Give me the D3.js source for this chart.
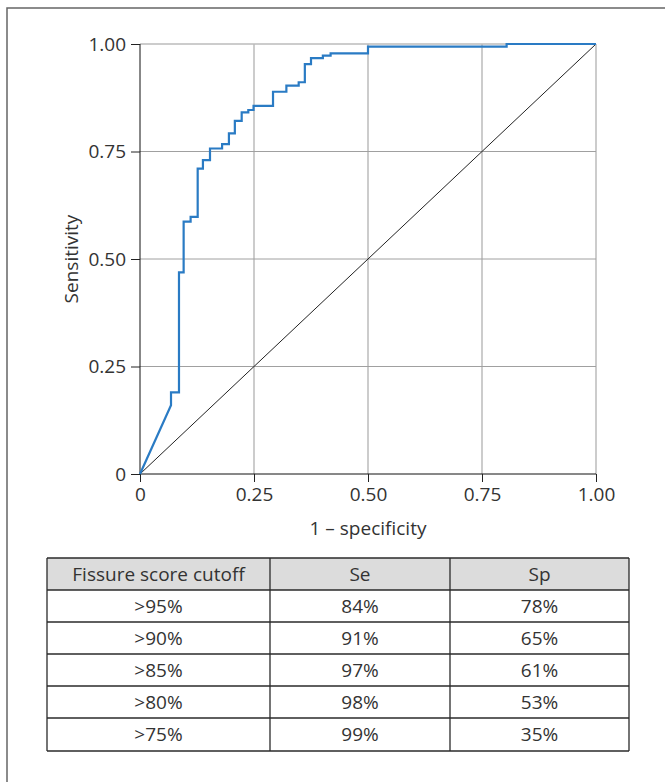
<!DOCTYPE html>
<html>
<head>
<meta charset="utf-8">
<script src="https://cdn.jsdelivr.net/npm/d3@7"></script>
<style>
  html, body { margin: 0; padding: 0; background: #fff; }
  svg { display: block; }
  text { font-family: "Open Sans", "Noto Sans", sans-serif; fill: #333; }
</style>
</head>
<body>
<svg id="chart" width="665" height="782"></svg>
<script>
// ROC curve vertices (1 - specificity, sensitivity)
const fpr = [0, 0.068, 0.068, 0.0855, 0.0855, 0.0957, 0.0957, 0.111, 0.111, 0.1265, 0.1265, 0.138, 0.138, 0.1535, 0.1535, 0.18, 0.18, 0.195, 0.195, 0.208, 0.208, 0.223, 0.223, 0.2375, 0.2375, 0.249, 0.249, 0.2917, 0.2917, 0.321, 0.321, 0.348, 0.348, 0.3615, 0.3615, 0.375, 0.375, 0.401, 0.401, 0.418, 0.418, 0.5, 0.5, 0.804, 0.804, 1];
const tpr = [0, 0.16, 0.19, 0.19, 0.469, 0.469, 0.587, 0.587, 0.598, 0.598, 0.710, 0.710, 0.730, 0.730, 0.757, 0.757, 0.767, 0.767, 0.792, 0.792, 0.821, 0.821, 0.841, 0.841, 0.8465, 0.8465, 0.856, 0.856, 0.889, 0.889, 0.903, 0.903, 0.911, 0.911, 0.953, 0.953, 0.967, 0.967, 0.973, 0.973, 0.978, 0.978, 0.994, 0.994, 1, 1];
const tickValues = [0, 0.25, 0.5, 0.75, 1];
const tickLabels = ["0", "0.25", "0.50", "0.75", "1.00"];
const tableHeader = ["Fissure score cutoff", "Se", "Sp"];
const cutoffs = [">95%", ">90%", ">85%", ">80%", ">75%"];
const seValues = ["84%", "91%", "97%", "98%", "99%"];
const spValues = ["78%", "65%", "61%", "53%", "35%"];

const FS = "19px";
const svg = d3.select("#chart");

// outer frame (left and top edges)
svg.append("path").attr("d", "M7,782 V8 H665").attr("fill", "none").attr("stroke", "#666").attr("stroke-width", 1.5);

const x = d3.scaleLinear().domain([0, 1]).range([140, 596]);
const y = d3.scaleLinear().domain([0, 1]).range([474, 44]);

// gridlines
const grid = svg.append("g");
grid.selectAll("line.v").data(tickValues.slice(1)).join("line")
  .attr("x1", d => x(d)).attr("x2", d => x(d)).attr("y1", y(0)).attr("y2", y(1))
  .attr("stroke", "#999").attr("stroke-width", 1);
grid.selectAll("line.h").data(tickValues.slice(1)).join("line")
  .attr("y1", d => y(d)).attr("y2", d => y(d)).attr("x1", x(0)).attr("x2", x(1))
  .attr("stroke", d => d === 1 ? "#bbb" : "#a0a0a0").attr("stroke-width", d => d === 1 ? 1.5 : 1);

// axes
const xAxis = d3.axisBottom(x).tickValues(tickValues).tickFormat((d, i) => tickLabels[i]).tickSize(8).tickPadding(4);
const yAxis = d3.axisLeft(y).tickValues(tickValues).tickFormat((d, i) => tickLabels[i]).tickSize(9).tickPadding(5);
const gx = svg.append("g").attr("transform", `translate(0,${y(0)})`).call(xAxis);
const gy = svg.append("g").attr("transform", `translate(${x(0)},0)`).call(yAxis);
[gx, gy].forEach(g => {
  g.select(".domain").attr("stroke", "#111").attr("d", g === gx ? `M${x(0)},0H${x(1)}` : `M0,${y(0)}V${y(1)}`);
  g.selectAll(".tick line").attr("stroke", "#222");
  g.selectAll(".tick text").style("font-family", '"Open Sans", sans-serif').style("font-size", FS).attr("fill", "#333");
});
gx.selectAll(".tick text").attr("dy", "0.8em");

// diagonal reference
svg.append("line").attr("x1", x(0)).attr("y1", y(0)).attr("x2", x(1)).attr("y2", y(1))
  .attr("stroke", "#222").attr("stroke-width", 1);

// ROC curve
const pts = fpr.map((f, i) => [f, tpr[i]]);
svg.append("path").datum(pts)
  .attr("d", d3.line().x(d => x(d[0])).y(d => y(d[1])))
  .attr("fill", "none").attr("stroke", "#2a7bc4").attr("stroke-width", 2.2).attr("stroke-linejoin", "miter");

// axis titles
svg.append("text").attr("x", (x(0) + x(1)) / 2).attr("y", 535).attr("text-anchor", "middle")
  .style("font-size", FS).text("1 – specificity");
svg.append("text").attr("transform", `translate(78,${(y(0) + y(1)) / 2}) rotate(-90)`).attr("text-anchor", "middle")
  .style("font-size", FS).text("Sensitivity");

// table
const colX = [47, 270, 450, 629];
const rowY = [558, 590, 622, 654, 686, 718, 751];
const tbl = svg.append("g");
tbl.append("rect").attr("x", colX[0]).attr("y", rowY[0]).attr("width", colX[3] - colX[0]).attr("height", rowY[1] - rowY[0]).attr("fill", "#dcdcdc");
const rows = cutoffs.map((c, i) => [c, seValues[i], spValues[i]]);
const allRows = [tableHeader, ...rows];
allRows.forEach((r, i) => {
  r.forEach((cell, j) => {
    tbl.append("text").attr("x", (colX[j] + colX[j + 1]) / 2).attr("y", (rowY[i] + rowY[i + 1]) / 2)
      .attr("dy", "0.35em").attr("text-anchor", "middle").style("font-size", FS).text(cell);
  });
});
rowY.forEach(yy => tbl.append("line").attr("x1", colX[0]).attr("x2", colX[3]).attr("y1", yy).attr("y2", yy).attr("stroke", "#2a2a2a").attr("stroke-width", 1.3));
colX.forEach(xx => tbl.append("line").attr("x1", xx).attr("x2", xx).attr("y1", rowY[0]).attr("y2", rowY[6]).attr("stroke", "#2a2a2a").attr("stroke-width", 1.3));
</script>
</body>
</html>
